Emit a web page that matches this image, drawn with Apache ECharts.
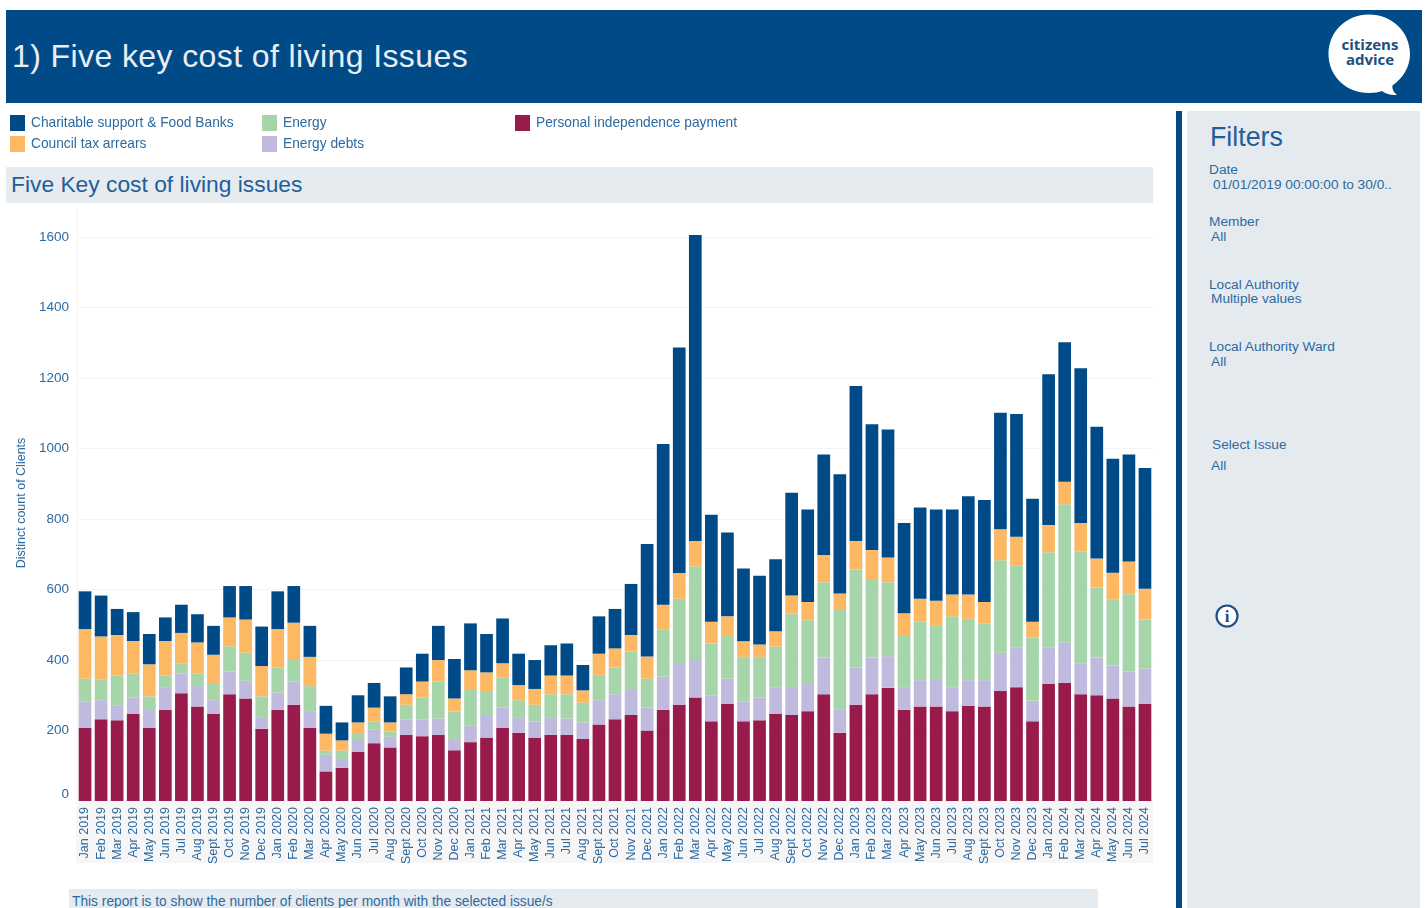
<!DOCTYPE html>
<html>
<head>
<meta charset="utf-8">
<title>Five key cost of living Issues</title>
<script src="https://cdn.jsdelivr.net/npm/echarts@6/dist/echarts.min.js"></script>
<style>
  html, body { margin: 0; padding: 0; background: #fff; overflow: hidden; }
  body { width: 1428px; height: 908px; position: relative; font-family: "Liberation Sans", Arial, sans-serif; color: #2d6aa0; }
  .box { position: absolute; }
  .t { position: absolute; font-size: 13.7px; line-height: 16px; white-space: nowrap; }
  #main { position: absolute; left: 0; top: 0; width: 1428px; height: 908px; }
</style>
</head>
<body>
  <div class="box" style="left:6px;top:10px;width:1416px;height:93px;background:#004b87;"></div>
  <div class="t" style="left:12px;top:36px;font-size:32px;line-height:40px;color:#e8eef5;letter-spacing:0.4px;">1) Five key cost of living Issues</div>
  <svg class="box" style="left:1326px;top:12px;" width="88" height="86" viewBox="0 0 88 86">
    <path d="M43 2.5C20 2.5 2.5 20 2.5 42C2.5 64 20 81 43 81C48 81 53 80 56 79C60 82 65 83.5 71 83C67 80 66 76 66.5 73.5C77 66 84 55 84 42C84 20 66 2.5 43 2.5Z" fill="#fff"/>
    <text x="44" y="37.5" text-anchor="middle" font-family="Open Sans" font-weight="700" font-size="15" fill="#1d4f80">citizens</text>
    <text x="44" y="52.5" text-anchor="middle" font-family="Open Sans" font-weight="700" font-size="15" fill="#1d4f80">advice</text>
  </svg>

  <div class="box" style="left:6px;top:167px;width:1147px;height:36px;background:#e6ebf0;"></div>
  <div class="t" style="left:11px;top:171px;font-size:22.8px;line-height:26px;color:#1f5f99;">Five Key cost of living issues</div>

  <!-- grey strip behind the month labels -->
  <div class="box" style="left:76px;top:802px;width:1077px;height:61px;background:#f6f6f7;"></div>

  <div class="box" style="left:69px;top:889px;width:1029px;height:19px;background:#e6ebf0;"></div>
  <div class="t" style="left:72px;top:894px;font-size:13.75px;">This report is to show the number of clients per month with the selected issue/s</div>

  <!-- filters panel -->
  <div class="box" style="left:1176px;top:111px;width:5.5px;height:797px;background:#004b87;"></div>
  <div class="box" style="left:1187px;top:111px;width:233px;height:797px;background:#e5eaef;"></div>
  <div class="t" style="left:1210px;top:122px;font-size:26.8px;line-height:30px;color:#1f5f99;">Filters</div>
  <div class="t" style="left:1209px;top:162px;">Date</div>
  <div class="t" style="left:1213px;top:177px;">01/01/2019 00:00:00 to 30/0..</div>
  <div class="t" style="left:1209px;top:214px;">Member</div>
  <div class="t" style="left:1211px;top:229px;">All</div>
  <div class="t" style="left:1209px;top:277px;">Local Authority</div>
  <div class="t" style="left:1211px;top:291px;">Multiple values</div>
  <div class="t" style="left:1209px;top:339px;">Local Authority Ward</div>
  <div class="t" style="left:1211px;top:354px;">All</div>
  <div class="t" style="left:1212px;top:437px;">Select Issue</div>
  <div class="t" style="left:1211px;top:458px;">All</div>
  <svg class="box" style="left:1214px;top:603px;" width="26" height="26" viewBox="0 0 26 26">
    <circle cx="13" cy="13" r="10.5" fill="#fff" stroke="#1d4f80" stroke-width="2.2"/>
    <text x="13" y="19" text-anchor="middle" font-family="Liberation Serif" font-weight="700" font-size="17" fill="#1d4f80">i</text>
  </svg>

  <div id="main"></div>

<script>
// months on the x axis, Jan 2019 to Jul 2024
const months = [
  'Jan 2019','Feb 2019','Mar 2019','Apr 2019','May 2019','Jun 2019','Jul 2019','Aug 2019','Sept 2019','Oct 2019','Nov 2019','Dec 2019',
  'Jan 2020','Feb 2020','Mar 2020','Apr 2020','May 2020','Jun 2020','Jul 2020','Aug 2020','Sept 2020','Oct 2020','Nov 2020','Dec 2020',
  'Jan 2021','Feb 2021','Mar 2021','Apr 2021','May 2021','Jun 2021','Jul 2021','Aug 2021','Sept 2021','Oct 2021','Nov 2021','Dec 2021',
  'Jan 2022','Feb 2022','Mar 2022','Apr 2022','May 2022','Jun 2022','Jul 2022','Aug 2022','Sept 2022','Oct 2022','Nov 2022','Dec 2022',
  'Jan 2023','Feb 2023','Mar 2023','Apr 2023','May 2023','Jun 2023','Jul 2023','Aug 2023','Sept 2023','Oct 2023','Nov 2023','Dec 2023',
  'Jan 2024','Feb 2024','Mar 2024','Apr 2024','May 2024','Jun 2024','Jul 2024'
];

// values, one entry per month
const personalIndependence = [
  208,232,229,247,208,259,306,268,247,303,291,205,
  259,273,208,84,94,140,164,152,188,184,188,144,
  167,180,208,194,180,188,188,176,217,232,244,200,
  259,273,294,226,276,226,229,247,244,255,303,194,
  273,303,321,259,268,268,255,270,268,312,323,226,
  332,335,303,300,291,268,276
];
const energyDebts = [
  74,54,41,47,53,62,56,58,39,65,50,33,
  49,66,47,47,25,36,38,30,44,48,46,32,
  48,64,57,44,46,50,46,47,69,71,74,65,
  94,116,109,74,71,56,65,76,77,77,104,65,
  106,104,90,62,75,78,68,73,75,109,112,59,
  103,115,88,107,94,100,100
];
const energy = [
  65,58,86,67,36,35,29,35,49,71,80,59,
  71,61,71,12,24,17,24,15,41,62,105,78,
  100,68,85,48,47,65,69,56,72,76,106,82,
  133,185,263,147,121,127,115,115,211,181,214,283,
  278,223,210,150,167,151,201,174,160,262,233,179,
  271,392,318,199,186,219,139
];
const councilTax = [
  141,123,115,93,91,98,86,89,80,82,94,86,
  109,106,83,48,29,30,39,26,30,45,61,37,
  56,53,41,43,45,53,53,35,60,54,47,63,
  71,73,72,62,56,44,35,44,51,52,77,47,
  81,82,70,62,64,71,62,69,62,88,82,45,
  77,64,80,82,77,93,87
];
const charitable = [
  107,116,74,82,86,67,80,80,82,89,95,112,
  107,104,88,79,51,77,70,74,76,79,97,112,
  133,109,127,89,82,86,91,72,106,112,145,319,
  456,640,868,303,238,207,195,204,292,262,285,338,
  440,357,363,256,259,259,241,279,289,331,348,349,
  428,396,439,374,323,303,343
];

const yTicks = { max: 1680, interval: 200 };
const labelBlue = '#2d6aa0';

function barSeries(name, data, color) {
  return { name: name, type: 'bar', stack: 'issues', barWidth: '79%', data: data, itemStyle: { color: color } };
}

// one vertical legend per column, same as the dashboard layout
function legendColumn(left, names) {
  return {
    left: left, top: 115, orient: 'vertical', itemWidth: 15, itemHeight: 16, itemGap: 5, icon: 'rect',
    selectedMode: false, data: names, padding: 0,
    textStyle: { color: labelBlue, fontSize: 13.75, fontFamily: 'Liberation Sans', padding: [0, 0, 0, 1] }
  };
}

const myChart = echarts.init(document.getElementById('main'));
myChart.setOption({
  animation: false,
  backgroundColor: 'transparent',
  legend: [
    legendColumn(10, ['Charitable support & Food Banks', 'Council tax arrears']),
    legendColumn(262, ['Energy', 'Energy debts']),
    legendColumn(515, ['Personal independence payment'])
  ],
  grid: { left: 77, right: 275, top: 209, bottom: 107 },
  xAxis: {
    type: 'category',
    data: months,
    axisTick: { show: false },
    axisLine: { show: false },
    axisLabel: { interval: 0, rotate: 90, margin: 6, color: labelBlue, fontSize: 12.5, fontFamily: 'Liberation Sans' }
  },
  yAxis: {
    type: 'value',
    min: 0,
    max: yTicks.max,
    interval: yTicks.interval,
    name: 'Distinct count of Clients',
    nameLocation: 'middle',
    nameGap: 48,
    nameTextStyle: { color: labelBlue, fontSize: 12.5, fontFamily: 'Liberation Sans', padding: [0, 0, 0, 4] },
    axisTick: { show: false },
    axisLine: { show: true, lineStyle: { color: '#f4f4f6' } },
    axisLabel: {
      showMaxLabel: false,
      verticalAlignMinLabel: 'bottom',
      margin: 8,
      color: labelBlue,
      fontSize: 13.5,
      fontFamily: 'Liberation Sans',
      formatter: function (v) { return String(v); }
    },
    splitLine: { showMaxLine: false, lineStyle: { color: '#f4f4f6' } }
  },
  series: [
    barSeries('Personal independence payment', personalIndependence, '#981b4b'),
    barSeries('Energy debts', energyDebts, '#c0bbde'),
    barSeries('Energy', energy, '#a6d5aa'),
    barSeries('Council tax arrears', councilTax, '#fdb863'),
    barSeries('Charitable support & Food Banks', charitable, '#004b87')
  ]
});
</script>
</body>
</html>
